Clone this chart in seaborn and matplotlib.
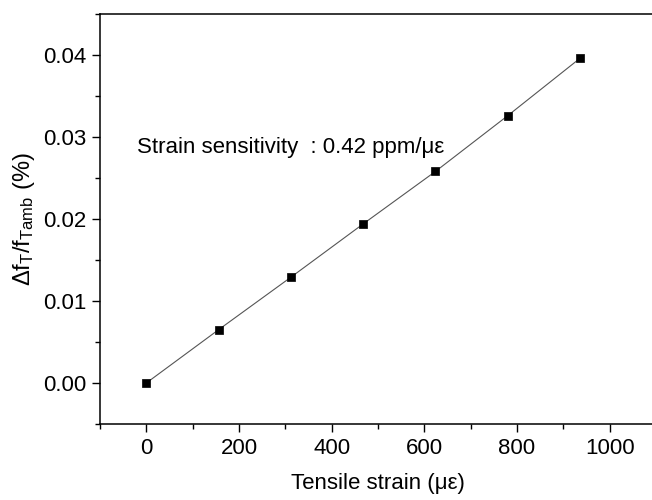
import matplotlib
matplotlib.use("Agg")
import matplotlib.pyplot as plt
import seaborn as sns
import pandas as pd
from matplotlib.ticker import MultipleLocator

strain = [0, 156, 312, 468, 624, 780, 936]
dfreq = [0.0, 0.0065, 0.0129, 0.0194, 0.0258, 0.0326, 0.0396]

sns.set_style("ticks")
plt.rcParams['font.family'] = ['Liberation Sans', 'DejaVu Sans']
plt.rcParams['mathtext.fontset'] = 'custom'
plt.rcParams['mathtext.rm'] = 'Liberation Sans'
plt.rcParams['mathtext.it'] = 'Liberation Sans'
plt.rcParams['mathtext.default'] = 'regular'
plt.rcParams['text.color'] = 'black'
plt.rcParams['axes.labelcolor'] = 'black'

df = pd.DataFrame({"strain": strain, "dfreq": dfreq})

fig = plt.figure(figsize=(6.52, 5.0), dpi=100)
ax = fig.add_axes([100/652, 76/500, 556/652, 410/500])

sns.lineplot(data=df, x="strain", y="dfreq", ax=ax, color="#555555", lw=0.8)
sns.scatterplot(data=df, x="strain", y="dfreq", ax=ax, marker="s", color="black",
                s=40, edgecolor="black", linewidth=0.5, zorder=3)

ax.set_xlim(-100, 1100)
ax.set_ylim(-0.005, 0.045)
ax.xaxis.set_major_locator(MultipleLocator(200))
ax.xaxis.set_minor_locator(MultipleLocator(100))
ax.yaxis.set_major_locator(MultipleLocator(0.01))
ax.yaxis.set_minor_locator(MultipleLocator(0.005))
ax.set_xticks([0, 200, 400, 600, 800, 1000])
ax.set_xticklabels(["0", "200", "400", "600", "800", "1000"])
ax.set_yticks([0.0, 0.01, 0.02, 0.03, 0.04])
ax.set_yticklabels(["0.00", "0.01", "0.02", "0.03", "0.04"])

ax.tick_params(axis='both', which='major', direction='out', length=6, width=1.0,
               labelsize=16, color='black', labelcolor='black', pad=4)
ax.tick_params(axis='both', which='minor', direction='out', length=3.5, width=1.0, color='black')
ax.tick_params(top=False, right=False, which='both')

for s in ['left', 'bottom', 'top']:
    ax.spines[s].set_visible(True)
    ax.spines[s].set_linewidth(1.1)
    ax.spines[s].set_color('black')
ax.spines['right'].set_visible(False)

ax.set_xlabel("Tensile strain (με)", fontsize=16, labelpad=10, color='black')
ax.set_ylabel(r"$\Delta$f$_{T}$/f$_{Tamb}$ (%)", fontsize=17, labelpad=4, color='black')

ax.text(137/652, (500-148)/500, "Strain sensitivity  : 0.42 ppm/με", transform=fig.transFigure,
        fontsize=16, ha='left', va='center', color='black')

fig.savefig("out.png", dpi=100)
